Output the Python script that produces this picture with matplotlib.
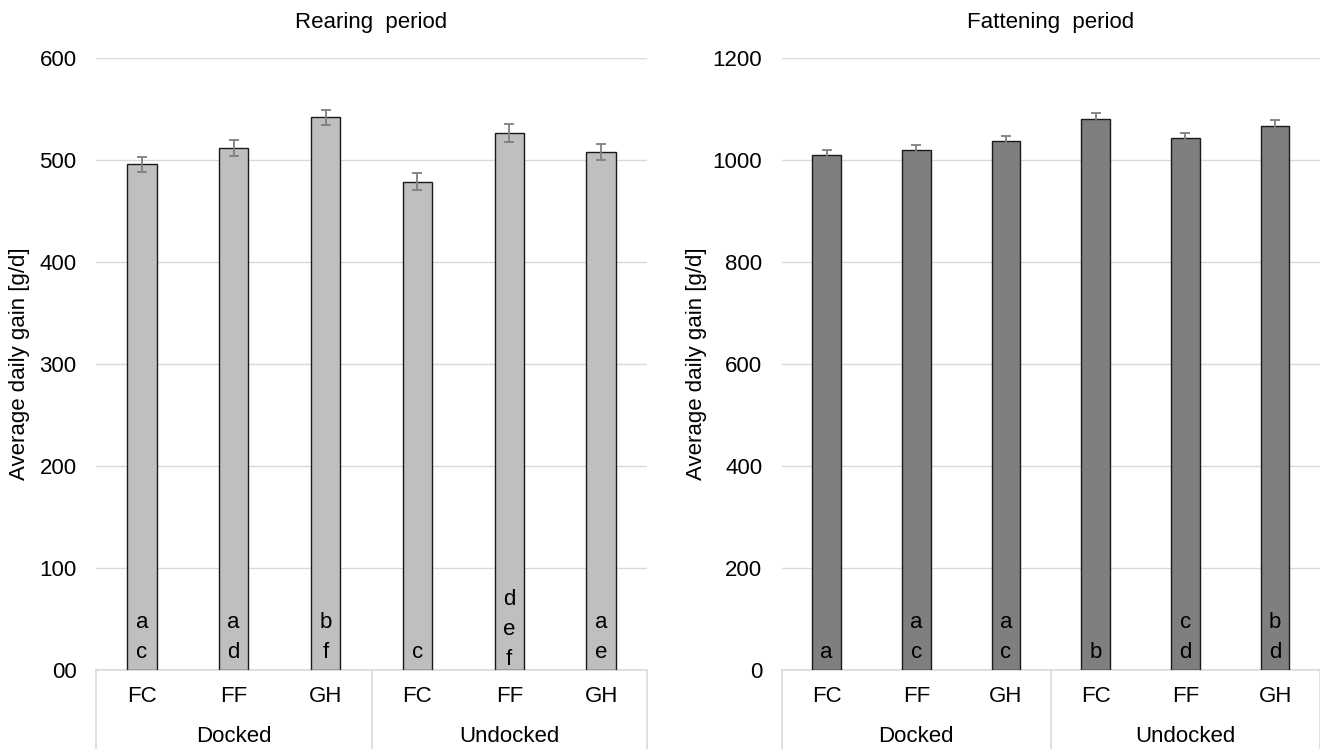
import numpy as np
import matplotlib.pyplot as plt

plt.rcParams['font.family'] = ['Liberation Sans', 'DejaVu Sans']

# data
groups = ['Docked', 'Undocked']
systems = ['FC', 'FF', 'GH']

rearing_gain = [496, 512, 542, 479, 527, 508]
rearing_err = [7.3, 7.8, 7.2, 8.3, 8.8, 8.2]
rearing_letters = [['a', 'c'], ['a', 'd'], ['b', 'f'], ['c'], ['d', 'e', 'f'], ['a', 'e']]

fattening_gain = [1010, 1020, 1037, 1080, 1043, 1068]
fattening_err = [9.4, 10.5, 10.2, 11.8, 10.0, 10.5]
fattening_letters = [['a'], ['a', 'c'], ['a', 'c'], ['b'], ['c', 'd'], ['b', 'd']]

rearing_ticks = [0, 100, 200, 300, 400, 500, 600]
rearing_ticklabels = ['00', '100', '200', '300', '400', '500', '600']
fattening_ticks = [0, 200, 400, 600, 800, 1000, 1200]
fattening_ticklabels = ['0', '200', '400', '600', '800', '1000', '1200']

FS = 16
GRID = '#d9d9d9'

fig = plt.figure(figsize=(13.2, 7.49), dpi=100)
ax1 = fig.add_axes([96 / 1320, 79 / 749, 551 / 1320, 611.7 / 749])
ax2 = fig.add_axes([781.7 / 1320, 79 / 749, 538.3 / 1320, 611.7 / 749])


def draw_panel(ax, vals, errs, letters, color, ticks, ticklabels, title, ylabel_x):
    x = np.arange(len(vals))
    ax.bar(x, vals, width=0.32, color=color, edgecolor='#1a1a1a', linewidth=1.0, zorder=3)
    ax.errorbar(x, vals, yerr=errs, fmt='none', ecolor='#7f7f7f', elinewidth=1.3,
                capsize=3.5, capthick=1.3, zorder=4)
    ax.set_xlim(-0.5, len(vals) - 0.5)
    ax.set_ylim(ticks[0], ticks[-1])
    ax.set_yticks(ticks)
    ax.set_yticklabels(ticklabels, fontsize=FS)
    ax.tick_params(axis='y', length=0, pad=14)
    ax.set_xticks([])
    ax.grid(axis='y', color=GRID, linewidth=1.0, zorder=0)
    for s in ax.spines.values():
        s.set_visible(False)
    ax.set_ylabel('Average daily gain [g/d]', fontsize=FS)
    ax.yaxis.set_label_coords(ylabel_x, 0.5)
    ax.text(0.5, 1.059, title, transform=ax.transAxes, ha='center', va='center', fontsize=FS)

    # significance letters inside the bars
    for xi, labs in zip(x, letters):
        base = 5 if len(labs) == 3 else 12
        for k, lab in enumerate(reversed(labs)):
            ax.annotate(lab, xy=(xi, 0), xytext=(0, (base + 30 * k) * 0.72),
                        textcoords='offset points', ha='center', va='baseline',
                        fontsize=FS, color='black', zorder=5)

    # category axis box
    tr = ax.get_xaxis_transform()
    ax.plot([-0.5, len(vals) - 0.5], [0, 0], transform=tr, color=GRID, lw=1.2,
            clip_on=False, zorder=2)
    for xv in [-0.5, 2.5, 5.5]:
        ax.plot([xv, xv], [0, -0.2], transform=tr, color=GRID, lw=1.2, clip_on=False)
    for i, xi in enumerate(x):
        ax.text(xi, -0.0437, systems[i % 3], transform=tr, ha='center', va='center', fontsize=FS)
    for g, name in enumerate(groups):
        ax.text(g * 3 + 1, -0.109, name, transform=tr, ha='center', va='center', fontsize=FS)


draw_panel(ax1, rearing_gain, rearing_err, rearing_letters, '#bfbfbf',
           rearing_ticks, rearing_ticklabels, 'Rearing  period', -66 / 551)
draw_panel(ax2, fattening_gain, fattening_err, fattening_letters, '#7f7f7f',
           fattening_ticks, fattening_ticklabels, 'Fattening  period', -75 / 538.3)

fig.savefig('out.png', dpi=100)
